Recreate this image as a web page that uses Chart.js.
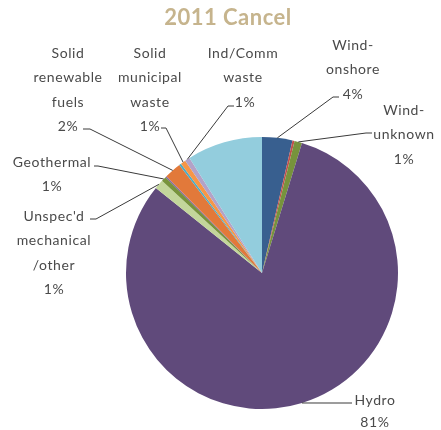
<!DOCTYPE html>
<html>
<head>
<meta charset="utf-8">
<script src="https://cdn.jsdelivr.net/npm/chart.js@4/dist/chart.umd.min.js"></script>
<style>
  html, body { margin: 0; padding: 0; background: #ffffff; }
  #wrap { width: 441px; height: 430px; position: relative; }
</style>
</head>
<body>
<div id="wrap"><canvas id="pie"></canvas></div>
<script>
// Generation mix, share of total (%), clockwise from 12 o'clock
const categories = [
  'Wind-onshore', 'Wind-offshore', 'Wind-unknown', 'Hydro',
  "Unspec'd mechanical/other", 'Geothermal', 'Landfill gas',
  'Solid renewable fuels', 'Biogas', 'Solid municipal waste',
  'Ind/Comm waste', 'Other'
];
const shares = [3.6, 0.25, 0.9, 81.0, 1.1, 0.6, 0.15, 2.0, 0.25, 0.6, 0.6, 8.95];
const sliceColors = [
  '#385f8f', '#c0504d', '#77933c', '#604a7b',
  '#c3d69b', '#77933c', '#8064a2', '#e2793a',
  '#4bacc6', '#f79646', '#b3a2c7', '#93cddd'
];

// Text lines for the labelled slices (the percentage line is added from the data)
const labelText = {
  0: ['Wind-', 'onshore'],
  2: ['Wind-', 'unknown'],
  3: ['Hydro'],
  4: ["Unspec'd", 'mechanical', '/other'],
  5: ['Geothermal'],
  7: ['Solid', 'renewable', 'fuels'],
  9: ['Solid', 'municipal', 'waste'],
  10: ['Ind/Comm', 'waste']
};

// Where each label block sits and where its leader line bends
const labelLayout = {
  0:  { x: 353, y: 45,  elbow: [333, 97],  end: [339, 97] },
  2:  { x: 404, y: 110, elbow: [366, 133], end: [372, 133] },
  3:  { x: 375, y: 400, elbow: [330, 403], end: [352, 403] },
  4:  { x: 54,  y: 216, elbow: [96, 219],  end: [90, 219] },
  5:  { x: 52,  y: 162, elbow: [98, 166],  end: [94, 166] },
  7:  { x: 68,  y: 53,  elbow: [90, 129],  end: [83, 129] },
  9:  { x: 150, y: 53,  elbow: [166, 128], end: [161, 128] },
  10: { x: 243, y: 53,  elbow: [228, 106], end: [234, 106] }
};

const LINE_GAP = 24.5;

const pieLabels = {
  id: 'pieLabels',
  afterDraw(chart) {
    const ctx = chart.ctx;
    const meta = chart.getDatasetMeta(0);
    const data = chart.data.datasets[0].data;
    const total = data.reduce((a, b) => a + b, 0);

    // title
    ctx.save();
    ctx.font = 'bold 22px Lato';
    ctx.fillStyle = '#c6b48d';
    ctx.textAlign = 'center';
    ctx.textBaseline = 'middle';
    ctx.letterSpacing = '0.5px';
    ctx.fillText('2011 Cancel', 228, 18);
    ctx.restore();

    ctx.save();
    ctx.strokeStyle = '#3a3a3a';
    ctx.lineWidth = 1;
    ctx.fillStyle = '#4a4a4a';
    ctx.font = '14px Lato';
    ctx.letterSpacing = '0.6px';
    ctx.textAlign = 'center';
    ctx.textBaseline = 'middle';

    Object.keys(labelLayout).forEach(k => {
      const i = Number(k);
      const arc = meta.data[i];
      const p = arc.getProps(['x', 'y', 'startAngle', 'endAngle', 'outerRadius'], true);
      const mid = (p.startAngle + p.endAngle) / 2;
      const ax = p.x + Math.cos(mid) * p.outerRadius;
      const ay = p.y + Math.sin(mid) * p.outerRadius;
      const L = labelLayout[k];

      ctx.beginPath();
      ctx.moveTo(ax, ay);
      ctx.lineTo(L.elbow[0], L.elbow[1]);
      ctx.lineTo(L.end[0], L.end[1]);
      ctx.stroke();

      const pct = Math.round(data[i] / total * 100) + '%';
      const lines = labelText[k].concat([pct]);
      lines.forEach((t, j) => {
        const tx = (i === 10 && j === lines.length - 1) ? L.x + 2 : L.x;
        ctx.fillText(t, tx, L.y + j * (i === 3 ? 22 : LINE_GAP));
      });
    });
    ctx.restore();
  }
};

new Chart(document.getElementById('pie'), {
  type: 'pie',
  data: {
    labels: categories,
    datasets: [{
      data: shares,
      backgroundColor: sliceColors,
      borderWidth: 0
    }]
  },
  options: {
    responsive: true,
    maintainAspectRatio: false,
    animation: false,
    layout: { padding: { left: 126, right: 43, top: 137, bottom: 21 } },
    plugins: {
      legend: { display: false },
      tooltip: { enabled: false },
      title: { display: false }
    }
  },
  plugins: [pieLabels]
});
</script>
</body>
</html>
